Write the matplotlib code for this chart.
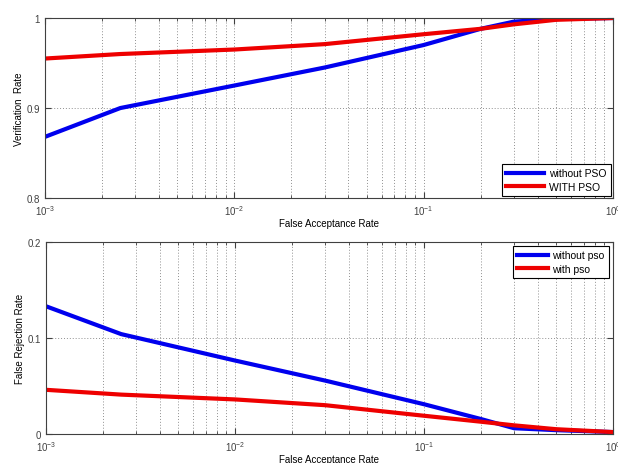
import matplotlib
matplotlib.use('Agg')
import matplotlib.pyplot as plt
from matplotlib.ticker import LogLocator, FixedLocator

# ROC-style curves
far_top = [1e-3, 2.5e-3, 1e-2, 3e-2, 1e-1, 2e-1, 3e-1, 5e-1, 1.0]
vr_without = [0.868, 0.900, 0.925, 0.945, 0.970, 0.988, 0.996, 0.999, 1.0]
vr_with = [0.955, 0.960, 0.965, 0.971, 0.982, 0.988, 0.993, 0.998, 1.0]

far_bot = [1e-3, 2.5e-3, 1e-2, 3e-2, 1e-1, 2e-1, 3e-1, 5e-1, 1.0]
frr_without = [0.133, 0.104, 0.0765, 0.0556, 0.031, 0.0156, 0.006, 0.004, 0.002]
frr_with = [0.046, 0.041, 0.036, 0.030, 0.019, 0.0128, 0.009, 0.005, 0.002]

plt.rcParams['font.family'] = ['Liberation Sans', 'DejaVu Sans']
plt.rcParams['font.size'] = 7

fig = plt.figure(figsize=(6.18, 4.64), dpi=100)
ax1 = fig.add_axes([0.0728, 0.571, 0.919, 0.388])
ax2 = fig.add_axes([0.0744, 0.0625, 0.9175, 0.414])


def style_axis(ax, yticks):
	ax.set_xscale('log')
	ax.set_xlim(1e-3, 1)
	ax.set_ylim(yticks[0], yticks[-1])
	ax.yaxis.set_major_locator(FixedLocator(yticks))
	ax.xaxis.set_major_locator(LogLocator(base=10))
	ax.xaxis.set_minor_locator(LogLocator(base=10, subs=range(2, 10)))
	ax.xaxis.grid(True, which='both', linestyle=(0, (1, 2)), color='#909090', linewidth=0.7)
	ax.yaxis.grid(True, which='major', linestyle=(0, (1, 2)), color='#909090', linewidth=0.7)
	ax.tick_params(which='both', direction='in', top=True, right=True, colors='#404040', labelsize=7)
	ax.tick_params(which='major', length=4)
	ax.tick_params(which='minor', length=2)
	for s in ax.spines.values():
		s.set_color('#404040')
		s.set_linewidth(0.8)


ax1.plot(far_top, vr_without, color='#0000ee', linewidth=3, label='without PSO')
ax1.plot(far_top, vr_with, color='#ee0000', linewidth=3, label='WITH PSO')
style_axis(ax1, [0.8, 0.9, 1.0])
ax1.set_yticklabels(['0.8', '0.9', '1'])
ax1.set_xlabel('False Acceptance Rate', labelpad=1)
ax1.set_ylabel('Verification  Rate', labelpad=2)
leg1 = ax1.legend(loc='lower right', fancybox=False, framealpha=1, edgecolor='black',
	fontsize=7.5, handlelength=3.6, handletextpad=0.5, labelspacing=0.35,
	borderaxespad=0.2, borderpad=0.4)
leg1.get_frame().set_linewidth(0.8)

ax2.plot(far_bot, frr_without, color='#0000ee', linewidth=3, label='without pso')
ax2.plot(far_bot, frr_with, color='#ee0000', linewidth=3, label='with pso')
style_axis(ax2, [0.0, 0.1, 0.2])
ax2.set_yticklabels(['0', '0.1', '0.2'])
ax2.set_xlabel('False Acceptance Rate', labelpad=1)
ax2.set_ylabel('False Rejection Rate', labelpad=2)
leg2 = ax2.legend(loc='upper right', fancybox=False, framealpha=1, edgecolor='black',
	fontsize=7.5, handlelength=3.0, handletextpad=0.4, labelspacing=0.35,
	borderaxespad=0.4, borderpad=0.4)
leg2.get_frame().set_linewidth(0.8)

fig.savefig('out.png', dpi=100)
